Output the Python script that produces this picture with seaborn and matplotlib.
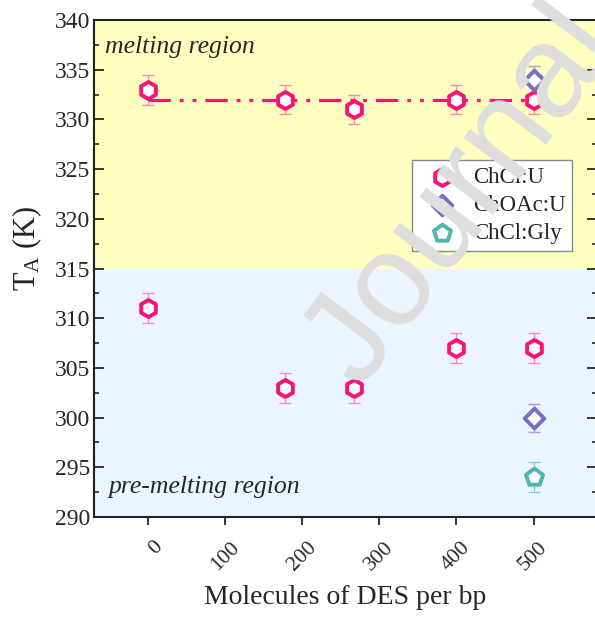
import numpy as np
import pandas as pd
import matplotlib
matplotlib.use('Agg')
import matplotlib.pyplot as plt
import matplotlib.transforms as mtransforms
import seaborn as sns

# datos
x_chclu = [0, 178, 267, 400, 500, 0, 178, 267, 400, 500]
t_chclu = [333, 332, 331, 332, 332, 311, 303, 303, 307, 307]
e_chclu = [1.5, 1.5, 1.5, 1.5, 1.5, 1.5, 1.5, 1.5, 1.5, 1.5]
x_choacu = [500, 500]
t_choacu = [334, 300]
e_choacu = [1.4, 1.4]
x_chclgly = [500]
t_chclgly = [294]
e_chclgly = [1.5]
labels = ['ChCl:U', 'ChOAc:U', 'ChCl:Gly']
x_ticks = [0, 100, 200, 300, 400, 500]
y_ticks = [290, 295, 300, 305, 310, 315, 320, 325, 330, 335, 340]
t_border = 315

sns.set_style("ticks")
plt.rcParams['font.family'] = ['Liberation Serif', 'DejaVu Serif']
plt.rcParams['mathtext.fontset'] = 'custom'
plt.rcParams['mathtext.rm'] = 'Liberation Serif'
plt.rcParams['mathtext.it'] = 'Liberation Serif:italic'

df = pd.concat([
    pd.DataFrame({'x': x_chclu, 'T': t_chclu, 'err': e_chclu, 'DES': labels[0]}),
    pd.DataFrame({'x': x_choacu, 'T': t_choacu, 'err': e_choacu, 'DES': labels[1]}),
    pd.DataFrame({'x': x_chclgly, 'T': t_chclgly, 'err': e_chclgly, 'DES': labels[2]}),
], ignore_index=True)

colores = {'ChCl:U': '#ff1077', 'ChOAc:U': '#7b6cc8', 'ChCl:Gly': '#4cb8ac'}
colores_err = {'ChCl:U': '#ff8ab8', 'ChOAc:U': '#a99de0', 'ChCl:Gly': '#86d2c8'}
marcadores = {'ChCl:U': 'h', 'ChOAc:U': 'D', 'ChCl:Gly': 'p'}
tamanos = {'ChCl:U': 150, 'ChOAc:U': 100, 'ChCl:Gly': 165}

fig = plt.figure(figsize=(5.95, 6.18), dpi=100)
ax = fig.add_axes([0.158, 0.1634, 0.845, 0.8042])

ax.axhspan(t_border, 340, color='#ffffc0', lw=0, zorder=0)
ax.axhspan(290, t_border, color='#ebf5ff', lw=0, zorder=0)

# linea promedio de la region de fusion
fus = df[(df['DES'] == 'ChCl:U') & (df['T'] > t_border)]
media = fus['T'].mean()
sns.lineplot(x=[fus['x'].min(), fus['x'].max()], y=[media, media], color='#ff1077',
             lw=2.3, linestyle=(0, (7, 2.8, 1.2, 2.8, 1.2, 2.8)), ax=ax, zorder=2)

for des in labels:
    sub = df[df['DES'] == des]
    ax.errorbar(sub['x'], sub['T'], yerr=sub['err'], fmt='none', ecolor=colores_err[des],
                elinewidth=1, capsize=4, capthick=1, zorder=2.5)
    sns.scatterplot(x=sub['x'], y=sub['T'], marker=marcadores[des], s=tamanos[des],
                    facecolor='white', edgecolor=colores[des], linewidth=2.8,
                    label=des, ax=ax, zorder=3)

ax.set_xlim(-70, 582)
ax.set_ylim(290, 340)
ax.set_xticks(x_ticks)
ax.set_yticks(y_ticks)
ax.set_yticks(np.arange(292.5, 340, 5), minor=True)
ax.tick_params(axis='y', which='major', direction='in', length=7, width=1.3,
               labelsize=17, pad=3, right=True)
ax.tick_params(axis='y', which='minor', direction='in', length=3.5, width=1.2, right=True)
ax.tick_params(axis='x', which='major', direction='out', length=6, width=1.3, pad=9)
for s in ax.spines.values():
    s.set_linewidth(1.5)
    s.set_color('#222222')

# etiquetas del eje x giradas y corridas a la derecha
ax.set_xticklabels([str(v) for v in x_ticks], rotation=45, ha='right', va='top', fontsize=15.5)
desplaza = mtransforms.ScaledTranslation(0.18, 0, fig.dpi_scale_trans)
for lab in ax.get_xticklabels():
    lab.set_transform(lab.get_transform() + desplaza)

ax.set_xlabel('Molecules of DES per bp', fontsize=20, labelpad=8)
ax.set_ylabel('T$_\\mathrm{A}$ (K)', fontsize=22)
ax.yaxis.set_label_coords(-0.10, 0.54)

ax.text(0.022, 0.946, 'melting region', transform=ax.transAxes, fontsize=18.5,
        style='italic', va='center', ha='left')
ax.text(0.028, 0.06, 'pre-melting region', transform=ax.transAxes, fontsize=18.5,
        style='italic', va='center', ha='left')

leg = ax.legend(loc='upper right', bbox_to_anchor=(0.951, 0.718), fontsize=16.5,
                frameon=True, fancybox=False, framealpha=1, edgecolor='#888888',
                borderpad=0.3, labelspacing=0.3, handletextpad=0.35, handlelength=2.0,
                borderaxespad=0)
leg.get_frame().set_linewidth(1.0)

# marca de agua
fig.text(0.778, 0.683, 'Journal', rotation=53, ha='center', va='center', fontsize=95,
         color='#dedede', family='Liberation Sans', zorder=10)

plt.savefig('out.png', dpi=100)
